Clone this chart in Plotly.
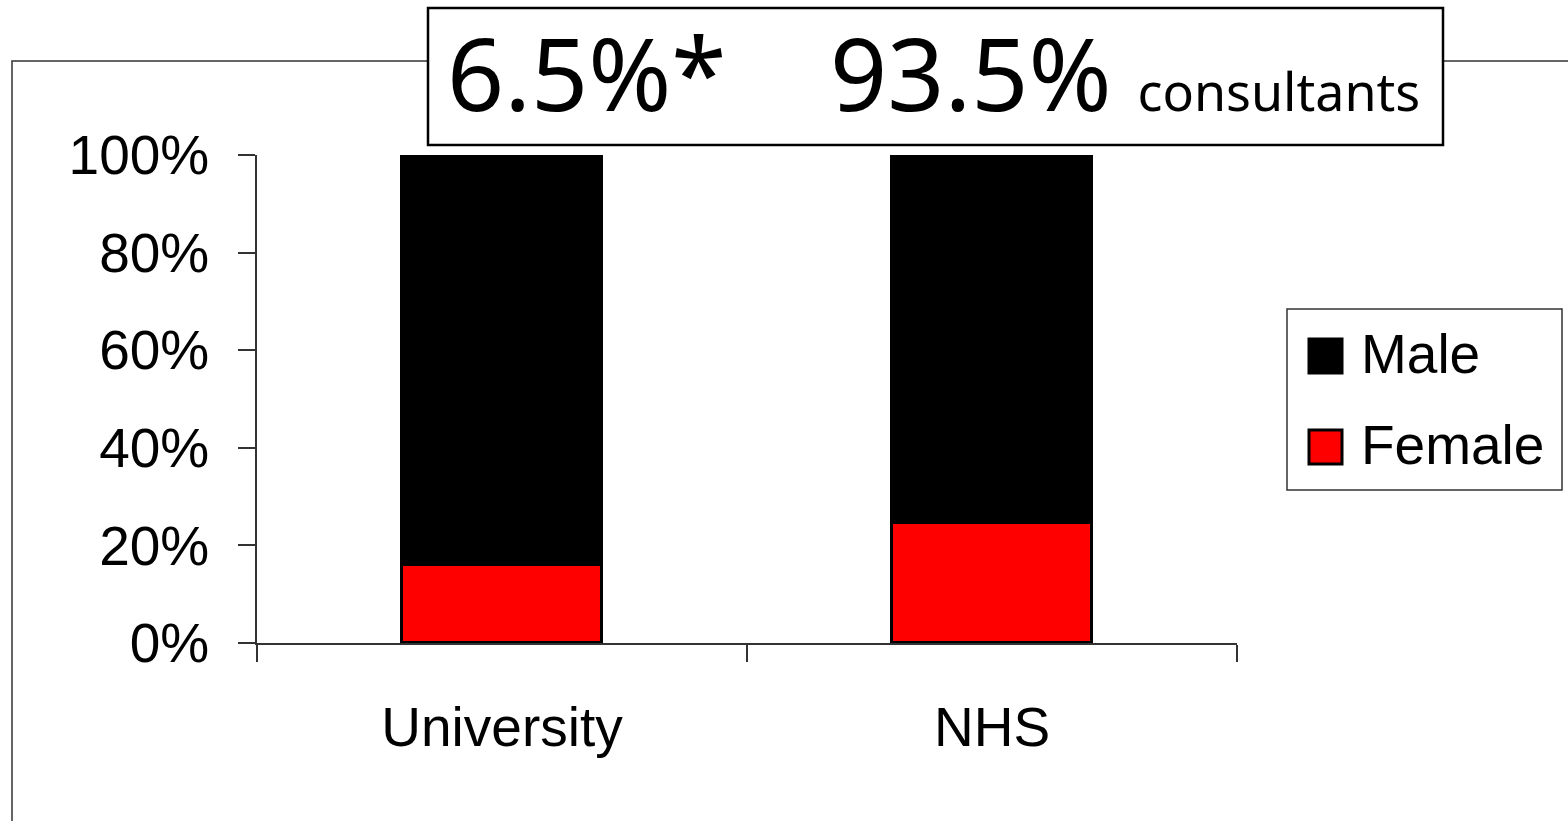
import plotly.graph_objects as go

categories = ["University", "NHS"]
female = [16.0, 24.5]
male = [84.0, 75.5]
series_names = ["Male", "Female"]
series_colors = {"Male": "#000000", "Female": "#ff0000"}
y_ticks = [0, 20, 40, 60, 80, 100]
y_tick_labels = ["0%", "20%", "40%", "60%", "80%", "100%"]
headline_left = "6.5%*"
headline_right = "93.5%"
headline_unit = "consultants"

W, H = 1568, 821
L, R, T, B = 257, 1237, 155, 643  # plot area in pixels


def px(x):
    return (x - L) / (R - L)


def py(y):
    return (B - y) / (B - T)


FONT = "Liberation Sans, Arial, sans-serif"
TFONT = "Comic Sans MS, Noto Sans, sans-serif"

fig = go.Figure()
fig.add_trace(go.Bar(x=categories, y=female, name="Female",
                     marker=dict(color=series_colors["Female"], line=dict(color="black", width=3.5)),
                     width=0.41, showlegend=False))
fig.add_trace(go.Bar(x=categories, y=male, name="Male",
                     marker=dict(color=series_colors["Male"], line=dict(color="black", width=3.5)),
                     width=0.41, showlegend=False))

shapes = []
# outer chart-area frame (clipped by the page)
shapes.append(dict(type="rect", xref="paper", yref="paper",
                   x0=px(12), x1=px(1600), y0=py(61), y1=py(860),
                   line=dict(color="#333333", width=1.5), fillcolor="rgba(0,0,0,0)", layer="below"))
# headline box
shapes.append(dict(type="rect", xref="paper", yref="paper",
                   x0=px(428), x1=px(1443), y0=py(8), y1=py(145),
                   line=dict(color="black", width=2.5), fillcolor="white", layer="above"))
# legend box
shapes.append(dict(type="rect", xref="paper", yref="paper",
                   x0=px(1287), x1=px(1562), y0=py(309), y1=py(490),
                   line=dict(color="#333333", width=1.5), fillcolor="white", layer="above"))

annotations = []
legend_rows = {"Male": 356, "Female": 447}
for name in series_names:
    cy = legend_rows[name]
    shapes.append(dict(type="rect", xref="paper", yref="paper",
                       x0=px(1309), x1=px(1342), y0=py(cy - 17), y1=py(cy + 17),
                       line=dict(color="black", width=3), fillcolor=series_colors[name], layer="above"))
    annotations.append(dict(text=name, xref="paper", yref="paper", x=px(1359), y=py(cy - 2),
                            xanchor="left", yanchor="middle", showarrow=False,
                            font=dict(family=FONT, size=55, color="black")))

annotations.append(dict(text=headline_left, xref="paper", yref="paper", x=px(445), y=py(72),
                        xanchor="left", yanchor="middle", showarrow=False,
                        font=dict(family=TFONT, size=100, color="black")))
annotations.append(dict(text=headline_right + " <span style='font-size:52px'>" + headline_unit + "</span>",
                        xref="paper", yref="paper", x=px(828), y=py(72),
                        xanchor="left", yanchor="middle", showarrow=False,
                        font=dict(family=TFONT, size=100, color="black")))

fig.update_layout(
    barmode="stack",
    width=W, height=H, autosize=False,
    margin=dict(l=L, r=W - R, t=T, b=H - B, pad=0),
    paper_bgcolor="white", plot_bgcolor="white",
    bargap=0,
    shapes=shapes, annotations=annotations,
    showlegend=False,
    font=dict(family=FONT, size=55, color="black"),
)
fig.update_xaxes(range=[-0.5, 1.5], showline=True, linecolor="#333333", linewidth=1.5,
                 ticks="outside", tickson="boundaries", ticklen=17, tickcolor="#333333", tickwidth=1.5,
                 showgrid=False, zeroline=False, ticklabelstandoff=35,
                 tickfont=dict(family=FONT, size=55, color="black"))
fig.update_yaxes(range=[0, 100], tickvals=y_ticks, ticktext=y_tick_labels,
                 showline=True, linecolor="#333333", linewidth=1.5,
                 ticks="outside", ticklen=17, tickcolor="#333333", tickwidth=1.5,
                 showgrid=False, zeroline=False, ticklabelstandoff=18,
                 tickfont=dict(family=FONT, size=55, color="black"))

fig.write_html("out.html")
